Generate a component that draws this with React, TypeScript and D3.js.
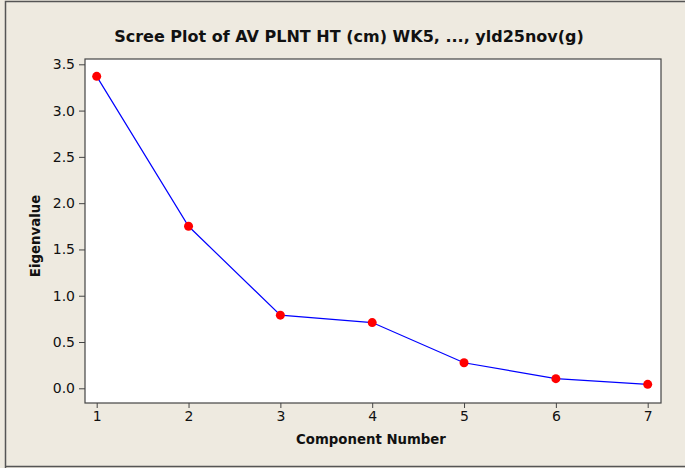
import React, { useEffect, useRef } from 'react';
import * as d3 from 'd3';

// values
const components = [1, 2, 3, 4, 5, 6, 7];
const eigenvalues = [3.37, 1.75, 0.79, 0.71, 0.276, 0.104, 0.043];
const yTicks = [0, 0.5, 1, 1.5, 2, 2.5, 3, 3.5];
const title = 'Scree Plot of AV PLNT HT (cm) WK5, ..., yld25nov(g)';

const App = () => {
  const ref = useRef<SVGSVGElement>(null);

  useEffect(() => {
    const svg = d3.select(ref.current);
    svg.selectAll('*').remove();

    const width = 685;
    const height = 468;
    const plot = { left: 85, top: 59, right: 661, bottom: 403 };
    const font = "'DejaVu Sans', sans-serif";

    // background + outer frame
    svg.append('rect')
      .attr('x', 0).attr('y', 0)
      .attr('width', width).attr('height', height)
      .attr('fill', '#eeeae0');
    svg.append('path')
      .attr('d', `M5.5,${height} V1.5 H${width} M5.5,466.5 H${width}`)
      .attr('fill', 'none')
      .attr('stroke', '#555')
      .attr('stroke-width', 1.5);

    const x = d3.scaleLinear()
      .domain([1, 7])
      .range([96.7, 647.7]);

    const y = d3.scaleLinear()
      .domain([0, 3.5])
      .range([388.3, 64.3]);

    // plot area
    svg.append('rect')
      .attr('x', plot.left).attr('y', plot.top)
      .attr('width', plot.right - plot.left)
      .attr('height', plot.bottom - plot.top)
      .attr('fill', 'white')
      .attr('stroke', '#444')
      .attr('stroke-width', 1.2);

    const yAxis = svg.append('g')
      .attr('transform', `translate(${plot.left},0)`)
      .call(d3.axisLeft(y).tickValues(yTicks).tickFormat(d3.format('.1f')).tickSize(6).tickPadding(4));
    yAxis.select('.domain').remove();
    yAxis.selectAll('text').attr('font-family', font).attr('font-size', 14).attr('fill', '#111');
    yAxis.selectAll('line').attr('stroke', '#444');

    const xAxis = svg.append('g')
      .attr('transform', `translate(0,${plot.bottom})`)
      .call(d3.axisBottom(x).tickValues(components).tickFormat(d3.format('d')).tickSize(5).tickPadding(3));
    xAxis.select('.domain').remove();
    xAxis.selectAll('text').attr('font-family', font).attr('font-size', 14).attr('fill', '#111');
    xAxis.selectAll('line').attr('stroke', '#444');

    const pts = components.map((c, i) => ({ c, v: eigenvalues[i] }));

    const line = d3.line<{ c: number; v: number }>()
      .x(d => x(d.c))
      .y(d => y(d.v));

    svg.append('path')
      .datum(pts)
      .attr('d', line)
      .attr('fill', 'none')
      .attr('stroke', '#0000ff')
      .attr('stroke-width', 1.2);

    svg.selectAll('circle')
      .data(pts)
      .join('circle')
      .attr('cx', d => x(d.c))
      .attr('cy', d => y(d.v))
      .attr('r', 4.5)
      .attr('fill', '#ff0000');

    svg.append('text')
      .attr('x', 349)
      .attr('y', 42)
      .attr('text-anchor', 'middle')
      .attr('font-family', font)
      .attr('font-weight', 'bold')
      .attr('font-size', 16)
      .attr('fill', '#111')
      .text(title);

    svg.append('text')
      .attr('x', 371)
      .attr('y', 444)
      .attr('text-anchor', 'middle')
      .attr('font-family', font)
      .attr('font-weight', 'bold')
      .attr('font-size', 13.3)
      .attr('fill', '#111')
      .text('Component Number');

    svg.append('text')
      .attr('transform', 'translate(40,236) rotate(-90)')
      .attr('text-anchor', 'middle')
      .attr('font-family', font)
      .attr('font-weight', 'bold')
      .attr('font-size', 13.3)
      .attr('fill', '#111')
      .text('Eigenvalue');
  }, []);

  return (
    <svg ref={ref} width={685} height={468}
      style={{ position: 'absolute', left: 0, top: 0, display: 'block' }} />
  );
};

export default App;
